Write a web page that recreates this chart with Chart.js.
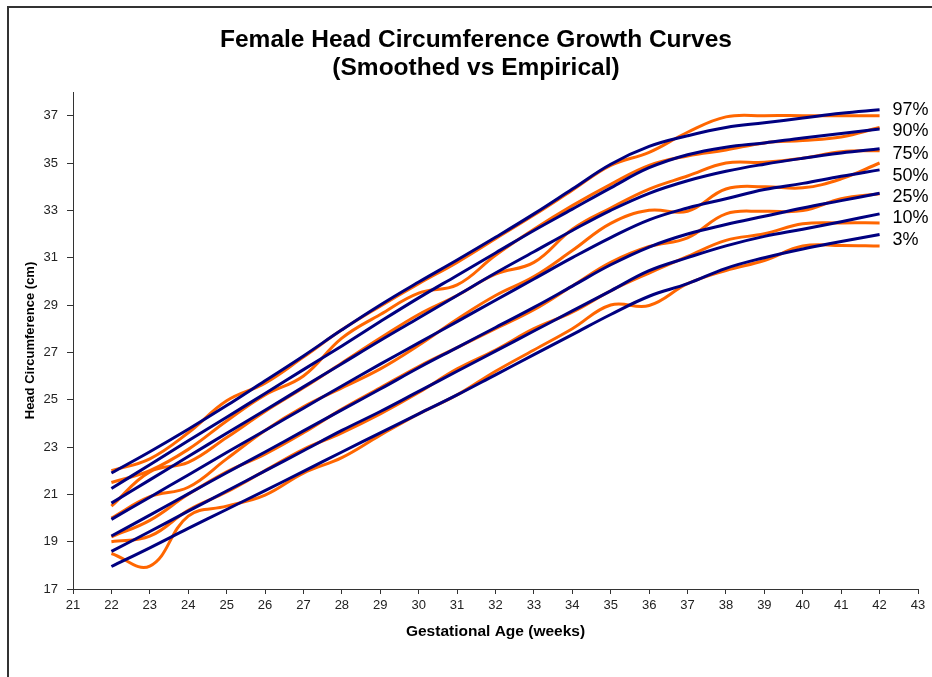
<!DOCTYPE html>
<html>
<head>
<meta charset="utf-8">
<script src="https://cdn.jsdelivr.net/npm/chart.js@4.4.1/dist/chart.umd.min.js"></script>
<style>
    html, body { margin: 0; padding: 0; background: #fff; }
    #wrap { width: 932px; height: 677px; }
</style>
</head>
<body>
<div id="wrap"><canvas id="hcChart" width="932" height="677"></canvas></div>
<script>
// gestational age (weeks)
const weeks = [22, 23, 24, 25, 26, 27, 28, 29, 30, 31, 32, 33, 34, 35, 36, 37, 38, 39, 40, 41, 42];

const xTicks = [21, 22, 23, 24, 25, 26, 27, 28, 29, 30, 31, 32, 33, 34, 35, 36, 37, 38, 39, 40, 41, 42, 43];
const yTicks = [17, 19, 21, 23, 25, 27, 29, 31, 33, 35, 37];

const percentiles = ['97%', '90%', '75%', '50%', '25%', '10%', '3%'];

// smoothed curves (cm)
const smooth97 = [21.9, 22.8, 23.75, 24.75, 25.8, 26.85, 27.95, 29.0, 29.97, 30.9, 31.86, 32.85, 33.9, 34.95, 35.7, 36.15, 36.5, 36.7, 36.9, 37.1, 37.25];
const smooth90 = [21.25, 22.25, 23.26, 24.26, 25.26, 26.27, 27.27, 28.3, 29.3, 30.25, 31.2, 32.15, 33.05, 33.95, 34.8, 35.35, 35.67, 35.85, 36.06, 36.25, 36.44];
const smooth75 = [20.63, 21.61, 22.6, 23.58, 24.55, 25.54, 26.52, 27.5, 28.45, 29.4, 30.35, 31.25, 32.15, 33.0, 33.72, 34.25, 34.65, 34.95, 35.2, 35.42, 35.6];
const smooth50 = [19.94, 20.88, 21.82, 22.77, 23.7, 24.64, 25.58, 26.5, 27.4, 28.3, 29.2, 30.1, 31.0, 31.85, 32.6, 33.1, 33.49, 33.88, 34.14, 34.44, 34.71];
const smooth25 = [19.24, 20.12, 21.02, 21.91, 22.79, 23.68, 24.57, 25.45, 26.35, 27.2, 28.05, 28.9, 29.8, 30.7, 31.45, 32.0, 32.4, 32.75, 33.1, 33.41, 33.72];
const smooth10 = [18.59, 19.43, 20.29, 21.14, 21.99, 22.84, 23.7, 24.5, 25.35, 26.2, 27.05, 27.9, 28.75, 29.6, 30.45, 31.0, 31.5, 31.9, 32.2, 32.52, 32.85];
const smooth3 = [17.95, 18.74, 19.56, 20.36, 21.16, 21.97, 22.79, 23.6, 24.4, 25.2, 26.05, 26.9, 27.75, 28.6, 29.37, 29.9, 30.55, 31.0, 31.37, 31.68, 31.98];

// empirical curves (cm)
const emp97 = [22.0, 22.5, 23.6, 24.95, 25.7, 26.8, 27.95, 28.95, 29.9, 30.8, 31.8, 32.8, 33.85, 34.9, 35.45, 36.3, 36.95, 37.0, 37.0, 37.0, 37.0];
const emp90 = [21.5, 22.0, 22.9, 24.1, 25.2, 26.0, 27.6, 28.6, 29.5, 29.85, 31.1, 32.2, 33.2, 34.1, 34.9, 35.3, 35.55, 35.85, 35.95, 36.1, 36.5];
const emp75 = [20.5, 21.95, 22.35, 23.4, 24.5, 25.5, 26.55, 27.6, 28.6, 29.4, 30.3, 30.8, 32.2, 33.1, 33.9, 34.45, 35.0, 35.03, 35.2, 35.48, 35.52];
const emp50 = [20.0, 20.9, 21.3, 22.5, 23.7, 24.7, 25.5, 26.3, 27.3, 28.4, 29.4, 30.2, 31.3, 32.45, 33.0, 32.96, 33.9, 34.0, 33.95, 34.33, 35.0];
const emp25 = [19.2, 19.9, 21.0, 21.95, 22.7, 23.6, 24.6, 25.5, 26.4, 27.2, 28.0, 28.8, 29.8, 30.8, 31.47, 31.84, 32.85, 32.96, 32.99, 33.49, 33.7];
const emp10 = [19.0, 19.23, 20.33, 21.1, 22.0, 22.9, 23.6, 24.4, 25.3, 26.3, 27.1, 28.0, 28.7, 29.6, 30.35, 31.05, 31.73, 32.01, 32.43, 32.47, 32.47];
const emp3 = [18.5, 17.97, 20.08, 20.5, 20.97, 21.9, 22.55, 23.5, 24.4, 25.2, 26.2, 27.1, 28.0, 29.0, 28.98, 29.9, 30.46, 30.88, 31.49, 31.51, 31.49];

const smoothSeries = [smooth97, smooth90, smooth75, smooth50, smooth25, smooth10, smooth3];
const empSeries = [emp97, emp90, emp75, emp50, emp25, emp10, emp3];

const NAVY = '#000080';
const ORANGE = '#FF6600';
const FONT = '"Liberation Sans", Arial, sans-serif';

// small vertical nudge (px) of each percentile name below its curve end
const labelNudge = [0, 2, 5, 6, 4, 4, 6];

function toPoints(values) {
    return weeks.map((w, i) => ({ x: w, y: values[i] }));
}

function buildDatasets() {
    const sets = [];
    empSeries.forEach((values, i) => {
        sets.push({
            label: 'Empirical ' + percentiles[i],
            data: toPoints(values),
            borderColor: ORANGE,
            borderWidth: 3,
            pointRadius: 0,
            tension: 0.4,
            fill: false,
            order: 2
        });
    });
    smoothSeries.forEach((values, i) => {
        sets.push({
            label: 'Smoothed ' + percentiles[i],
            data: toPoints(values),
            borderColor: NAVY,
            borderWidth: 3,
            pointRadius: 0,
            tension: 0.4,
            fill: false,
            order: 1,
            endLabel: percentiles[i],
            endNudge: labelNudge[i]
        });
    });
    return sets;
}

// outer frame of the chart object
const framePlugin = {
    id: 'frame',
    beforeDraw(chart) {
        const ctx = chart.ctx;
        ctx.save();
        ctx.fillStyle = '#fff';
        ctx.fillRect(0, 0, chart.width, chart.height);
        ctx.strokeStyle = '#333';
        ctx.lineWidth = 2;
        ctx.beginPath();
        ctx.moveTo(8, chart.height + 2);
        ctx.lineTo(8, 7);
        ctx.lineTo(chart.width + 2, 7);
        ctx.stroke();
        ctx.restore();
    }
};

// percentile names at the end of each smoothed curve
const endLabelPlugin = {
    id: 'endLabels',
    afterDatasetsDraw(chart) {
        const ctx = chart.ctx;
        const xs = chart.scales.x;
        const ys = chart.scales.y;
        ctx.save();
        ctx.font = '18px ' + FONT;
        ctx.fillStyle = '#000';
        ctx.textAlign = 'left';
        ctx.textBaseline = 'middle';
        chart.data.datasets.forEach(ds => {
            if (!ds.endLabel) return;
            const last = ds.data[ds.data.length - 1];
            const px = xs.getPixelForValue(last.x) + 13;
            const py = ys.getPixelForValue(last.y) + ds.endNudge;
            ctx.fillText(ds.endLabel, px, py);
        });
        ctx.restore();
    }
};

function initChart() {
    const ctx = document.getElementById('hcChart').getContext('2d');
    new Chart(ctx, {
        type: 'line',
        data: { datasets: buildDatasets() },
        options: {
            responsive: false,
            animation: false,
            layout: { padding: { left: 20, right: 0, top: 0, bottom: 0 } },
            plugins: {
                legend: { display: false },
                tooltip: { enabled: false },
                title: {
                    display: true,
                    text: ['Female Head Circumference Growth Curves', '(Smoothed vs Empirical)'],
                    color: '#000',
                    font: { family: FONT, size: 24.5, weight: 'bold', lineHeight: 1.143 },
                    padding: { top: 26, bottom: 10 }
                }
            },
            scales: {
                x: {
                    type: 'linear',
                    min: 21,
                    max: 43,
                    afterBuildTicks: (scale) => { scale.ticks = xTicks.map(v => ({ value: v })); },
                    afterFit: (scale) => { scale.height = 88; scale.paddingRight = 14; },
                    grid: { drawOnChartArea: false, drawTicks: true, tickLength: 5, color: '#333' },
                    border: { color: '#333', width: 1 },
                    ticks: {
                        color: '#222',
                        padding: 4,
                        maxRotation: 0,
                        autoSkip: false,
                        font: { family: FONT, size: 13 }
                    },
                    title: {
                        display: true,
                        text: 'Gestational Age (weeks)',
                        color: '#000',
                        font: { family: FONT, size: 15.5, weight: 'bold' },
                        padding: { top: 0, bottom: 36 }
                    }
                },
                y: {
                    type: 'linear',
                    min: 17,
                    max: 38,
                    afterBuildTicks: (scale) => { scale.ticks = yTicks.map(v => ({ value: v })); },
                    afterFit: (scale) => { scale.width = 53; },
                    grid: { drawOnChartArea: false, drawTicks: true, tickLength: 6, color: '#333' },
                    border: { color: '#333', width: 1 },
                    ticks: {
                        color: '#222',
                        padding: 9,
                        autoSkip: false,
                        font: { family: FONT, size: 13 }
                    },
                    title: {
                        display: true,
                        text: 'Head Circumference (cm)',
                        color: '#000',
                        font: { family: FONT, size: 13, weight: 'bold' },
                        padding: { top: 3, bottom: 0 }
                    }
                }
            }
        },
        plugins: [framePlugin, endLabelPlugin]
    });
}

document.addEventListener('DOMContentLoaded', initChart);
</script>
</body>
</html>
